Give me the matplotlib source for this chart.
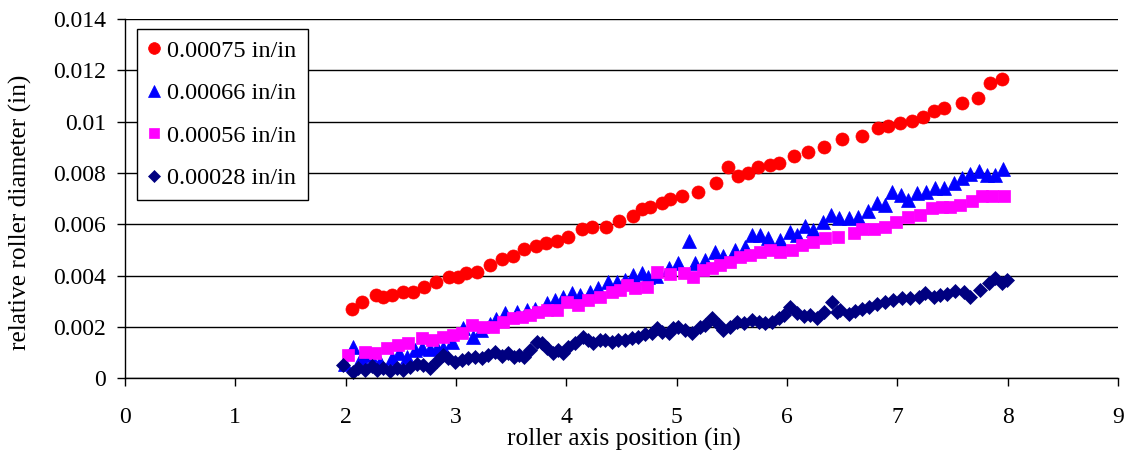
import matplotlib
matplotlib.use("Agg")
import matplotlib.pyplot as plt

plt.rcParams['font.family'] = ['Liberation Serif', 'DejaVu Serif']

# ---- data -------------------------------------------------------------
labels = ["0.00075 in/in", "0.00066 in/in", "0.00056 in/in", "0.00028 in/in"]

red_x = [2.055, 2.146, 2.273, 2.342, 2.418, 2.523, 2.614, 2.713, 2.817, 2.940,
         3.016, 3.089, 3.194, 3.309, 3.415, 3.520, 3.615, 3.723, 3.817, 3.914,
         4.019, 4.141, 4.231, 4.358, 4.481, 4.608, 4.684, 4.760, 4.866, 4.941,
         5.050, 5.192, 5.355, 5.464, 5.555, 5.648, 5.736, 5.848, 5.923, 6.059,
         6.190, 6.331, 6.498, 6.679, 6.821, 6.915, 7.026, 7.132, 7.237, 7.328,
         7.419, 7.586, 7.727, 7.836, 7.948]
red_y = [0.00269, 0.00298, 0.00325, 0.00316, 0.00323, 0.00337, 0.00337, 0.00356, 0.00376, 0.00394,
         0.00394, 0.00409, 0.00415, 0.00440, 0.00464, 0.00478, 0.00503, 0.00517, 0.00526, 0.00534,
         0.00549, 0.00581, 0.00588, 0.00588, 0.00613, 0.00634, 0.00659, 0.00666, 0.00682, 0.00697,
         0.00710, 0.00727, 0.00760, 0.00822, 0.00789, 0.00799, 0.00822, 0.00831, 0.00838, 0.00867,
         0.00883, 0.00900, 0.00931, 0.00945, 0.00976, 0.00984, 0.00994, 0.01003, 0.01017, 0.01042,
         0.01054, 0.01072, 0.01093, 0.01149, 0.01165]

blue_x = [1.990, 2.064, 2.140, 2.220, 2.310, 2.418, 2.480, 2.554, 2.630, 2.690,
          2.765, 2.830, 2.886, 2.965, 3.067, 3.158, 3.230, 3.310, 3.360, 3.445,
          3.551, 3.642, 3.717, 3.823, 3.899, 3.974, 4.050, 4.125, 4.216, 4.291,
          4.382, 4.458, 4.533, 4.608, 4.684, 4.744, 4.813, 4.926, 5.016, 5.113,
          5.168, 5.258, 5.349, 5.424, 5.530, 5.621, 5.682, 5.757, 5.832, 5.938,
          6.029, 6.090, 6.165, 6.235, 6.326, 6.401, 6.467, 6.558, 6.648, 6.730,
          6.815, 6.890, 6.956, 7.033, 7.101, 7.177, 7.259, 7.337, 7.419, 7.510,
          7.586, 7.661, 7.736, 7.812, 7.881, 7.957]
blue_y = [0.00055, 0.00123, 0.00080, 0.00090, 0.00065, 0.00078, 0.00100, 0.00084, 0.00110, 0.00120,
          0.00114, 0.00120, 0.00119, 0.00140, 0.00195, 0.00162, 0.00190, 0.00210, 0.00230, 0.00253,
          0.00260, 0.00266, 0.00269, 0.00292, 0.00305, 0.00318, 0.00331, 0.00325, 0.00337, 0.00351,
          0.00376, 0.00376, 0.00383, 0.00402, 0.00409, 0.00396, 0.00400, 0.00429, 0.00448, 0.00535,
          0.00448, 0.00461, 0.00493, 0.00477, 0.00500, 0.00513, 0.00558, 0.00558, 0.00546, 0.00539,
          0.00571, 0.00558, 0.00593, 0.00578, 0.00610, 0.00636, 0.00626, 0.00626, 0.00630, 0.00652,
          0.00682, 0.00675, 0.00725, 0.00714, 0.00694, 0.00721, 0.00727, 0.00740, 0.00740, 0.00760,
          0.00779, 0.00795, 0.00808, 0.00792, 0.00792, 0.00816]

magenta_x = [2.024, 2.176, 2.267, 2.373, 2.478, 2.568, 2.690, 2.781, 2.886, 2.976,
             3.053, 3.143, 3.248, 3.339, 3.430, 3.520, 3.597, 3.672, 3.747, 3.823,
             3.914, 4.005, 4.110, 4.200, 4.306, 4.412, 4.488, 4.549, 4.624, 4.730,
             4.820, 4.941, 5.062, 5.152, 5.243, 5.319, 5.394, 5.485, 5.576, 5.666,
             5.757, 5.848, 5.938, 6.044, 6.135, 6.240, 6.346, 6.464, 6.603, 6.679,
             6.784, 6.890, 6.990, 7.093, 7.201, 7.314, 7.404, 7.480, 7.570, 7.676,
             7.767, 7.858, 7.963]
magenta_y = [0.00091, 0.00104, 0.00097, 0.00117, 0.00130, 0.00136, 0.00156, 0.00149, 0.00162, 0.00169,
             0.00175, 0.00208, 0.00201, 0.00201, 0.00221, 0.00234, 0.00240, 0.00247, 0.00260, 0.00266,
             0.00266, 0.00298, 0.00286, 0.00305, 0.00318, 0.00337, 0.00344, 0.00364, 0.00351, 0.00357,
             0.00415, 0.00406, 0.00409, 0.00394, 0.00422, 0.00429, 0.00441, 0.00454, 0.00474, 0.00480,
             0.00493, 0.00500, 0.00493, 0.00500, 0.00519, 0.00532, 0.00546, 0.00549, 0.00567, 0.00582,
             0.00582, 0.00588, 0.00610, 0.00630, 0.00636, 0.00662, 0.00669, 0.00669, 0.00675, 0.00692,
             0.00711, 0.00711, 0.00711]

navy_x = [1.979, 2.064, 2.115, 2.176, 2.237, 2.282, 2.342, 2.403, 2.463, 2.523,
          2.584, 2.645, 2.704, 2.765, 2.826, 2.880, 2.931, 2.992, 3.053, 3.112,
          3.173, 3.234, 3.294, 3.354, 3.415, 3.475, 3.527, 3.572, 3.617, 3.672,
          3.733, 3.778, 3.823, 3.883, 3.928, 3.974, 4.019, 4.080, 4.155, 4.200,
          4.246, 4.306, 4.352, 4.412, 4.472, 4.533, 4.594, 4.654, 4.714, 4.775,
          4.820, 4.866, 4.926, 4.971, 5.016, 5.077, 5.138, 5.213, 5.259, 5.319,
          5.380, 5.424, 5.485, 5.546, 5.606, 5.682, 5.742, 5.802, 5.863, 5.923,
          5.969, 6.029, 6.090, 6.150, 6.210, 6.271, 6.331, 6.407, 6.453, 6.482,
          6.558, 6.619, 6.679, 6.739, 6.815, 6.890, 6.965, 7.042, 7.117, 7.192,
          7.253, 7.328, 7.389, 7.450, 7.525, 7.600, 7.661, 7.752, 7.827, 7.888,
          7.948, 7.994]
navy_y = [0.00052, 0.00023, 0.00041, 0.00032, 0.00048, 0.00032, 0.00039, 0.00028, 0.00039, 0.00032,
          0.00045, 0.00055, 0.00052, 0.00039, 0.00067, 0.00091, 0.00080, 0.00065, 0.00071, 0.00078,
          0.00084, 0.00078, 0.00091, 0.00104, 0.00088, 0.00097, 0.00084, 0.00091, 0.00082, 0.00110,
          0.00143, 0.00136, 0.00117, 0.00097, 0.00110, 0.00097, 0.00123, 0.00136, 0.00162, 0.00149,
          0.00136, 0.00149, 0.00149, 0.00143, 0.00149, 0.00149, 0.00156, 0.00162, 0.00171, 0.00175,
          0.00195, 0.00182, 0.00175, 0.00195, 0.00201, 0.00188, 0.00175, 0.00201, 0.00208, 0.00234,
          0.00208, 0.00188, 0.00201, 0.00221, 0.00214, 0.00227, 0.00221, 0.00214, 0.00221, 0.00234,
          0.00247, 0.00279, 0.00253, 0.00243, 0.00247, 0.00234, 0.00260, 0.00298, 0.00260, 0.00266,
          0.00249, 0.00262, 0.00270, 0.00279, 0.00290, 0.00298, 0.00305, 0.00312, 0.00312, 0.00318,
          0.00331, 0.00318, 0.00325, 0.00327, 0.00340, 0.00335, 0.00318, 0.00344, 0.00370, 0.00390,
          0.00370, 0.00383]

x_ticks = [0, 1, 2, 3, 4, 5, 6, 7, 8, 9]
y_ticks = [0, 0.002, 0.004, 0.006, 0.008, 0.010, 0.012, 0.014]
y_tick_labels = ["0", "0.002", "0.004", "0.006", "0.008", "0.01", "0.012", "0.014"]

# ---- figure -----------------------------------------------------------
W, H = 1134, 450
fig = plt.figure(figsize=(W / 100, H / 100), dpi=100)
ax = fig.add_axes([125 / W, 1 - 378.3 / H, (1118 - 125) / W, (378.3 - 19) / H])

series = [
    (red_x, red_y, 'o', '#FF0000', 9.4),
    (blue_x, blue_y, '^', '#0000FF', 10.2),
    (magenta_x, magenta_y, 's', '#FF00FF', 8.4),
    (navy_x, navy_y, 'D', '#000080', 7.2),
]
for (xs, ys, mk, col, ms), lab in zip(series, labels):
    ax.plot(xs, ys, linestyle='none', marker=mk, markersize=ms,
            markerfacecolor=col, markeredgecolor=col, markeredgewidth=0.5,
            label=lab, clip_on=False)

ax.set_xlim(0, 9)
ax.set_ylim(0, 0.014)
ax.set_xticks(x_ticks)
ax.set_xticklabels([str(t) for t in x_ticks])
ax.set_yticks(y_ticks)
ax.set_yticklabels(y_tick_labels)

ax.yaxis.grid(True, color='black', linewidth=1.0)
ax.set_axisbelow(True)
for side in ('top', 'right'):
    ax.spines[side].set_visible(False)
for side in ('left', 'bottom'):
    ax.spines[side].set_color('black')
    ax.spines[side].set_linewidth(1.0)

ax.tick_params(axis='both', direction='out', length=5.5, width=1.0,
               colors='black', labelsize=17)
ax.tick_params(axis='x', pad=15)
ax.tick_params(axis='y', pad=8)

fig.text(624 / W, 1 - 439 / H, "roller axis position (in)",
         ha='center', va='center', fontsize=18.3)
fig.text(20 / W, 1 - 212 / H, "relative roller diameter (in)",
         ha='center', va='center', rotation=90, fontsize=18.3)

leg = ax.legend(loc='upper left', bbox_to_anchor=(137 / W, 1 - 29 / H),
                bbox_transform=fig.transFigure, borderaxespad=0,
                fontsize=17.5, frameon=True, fancybox=False, shadow=False,
                framealpha=1, edgecolor='black', handlelength=0.5,
                handletextpad=0.3, labelspacing=0.84, borderpad=0.45,
                numpoints=1, markerscale=0.9)
leg.get_frame().set_linewidth(1.0)

fig.savefig("out.png", dpi=100)
